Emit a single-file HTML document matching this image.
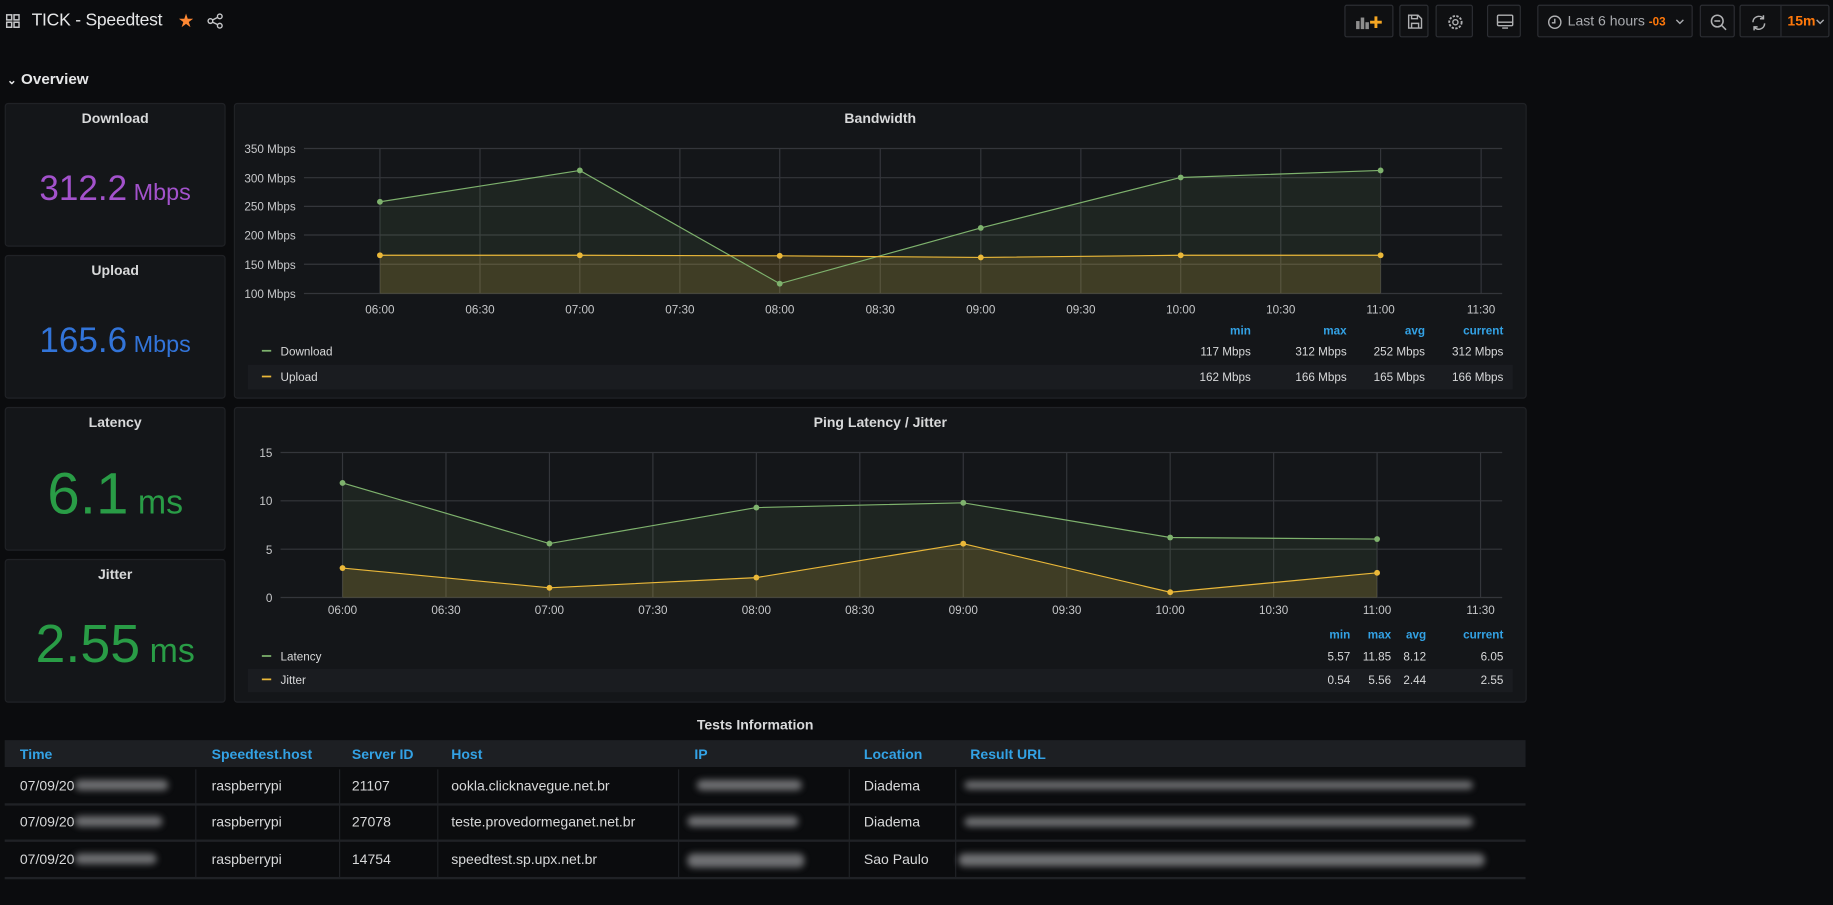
<!DOCTYPE html>
<html><head><meta charset="utf-8"><style>
html,body{margin:0;padding:0;background:#0b0c0e;overflow:hidden;width:1833px;height:905px}
#s{position:absolute;left:0;top:0;width:1568px;height:774px;transform:scale(1.16901,1.16925);transform-origin:0 0;font-family:"Liberation Sans",sans-serif;color:#d8d9da;font-size:11px}
.a{position:absolute}
.p{position:absolute;background:#141619;border:1px solid #202226;border-radius:3px;box-sizing:border-box}
.pt{position:absolute;left:0;right:0;top:5px;text-align:center;font-weight:bold;font-size:12px;color:#d8d9da}
.btn{position:absolute;top:4px;height:28px;border:1px solid #2c2e33;border-radius:2px;background:#0f1012;box-sizing:border-box}
.big{position:absolute;left:0;right:0;text-align:center;white-space:nowrap}
.th{position:absolute;top:638px;color:#33a2e5;font-weight:bold;font-size:12px}
.td{position:absolute;font-size:12px;color:#d8d9da}
.bl{position:absolute;height:9px;background:#8a8b8e;filter:blur(3px);border-radius:5px;opacity:.8}
.vs{position:absolute;width:1px;background:#202226}
.hs{position:absolute;left:4px;width:1301px;height:2px;background:#202226}
</style></head><body><div id="s">
<svg class="a" style="left:5px;top:12px" width="12" height="12"><g fill="none" stroke="#c7c8ca" stroke-width="1.3"><rect x="0.7" y="0.7" width="4.3" height="4.3"/><rect x="7" y="0.7" width="4.3" height="4.3"/><rect x="0.7" y="7" width="4.3" height="4.3"/><rect x="7" y="7" width="4.3" height="4.3"/></g></svg>
<div class="a" style="left:27px;top:9px;font-size:15px;color:#e6e7e8;letter-spacing:-0.2px">TICK - Speedtest</div>
<div class="a" style="left:152px;top:8px;font-size:16px;color:#ff8833">★</div>
<svg class="a" style="left:177px;top:11px" width="14" height="14"><g fill="none" stroke="#c7c8ca" stroke-width="1.2"><circle cx="11" cy="3" r="2"/><circle cx="3" cy="7" r="2"/><circle cx="11" cy="11" r="2"/><path d="M5 6L9 4M5 8L9 10"/></g></svg>
<div class="btn" style="left:1150px;width:42px"><svg style="position:absolute;left:9px;top:8px" width="24" height="12"><g fill="#8e8e8e"><rect x="0" y="5" width="3" height="7"/><rect x="4" y="2" width="3" height="10"/><rect x="8" y="6" width="3" height="6"/></g><path d="M17 1v10M12 6h10" stroke="#f5a623" stroke-width="2.5"/></svg></div>
<div class="btn" style="left:1197px;width:25px"><svg style="position:absolute;left:6px;top:7px" width="13" height="13"><path d="M1 1h8l3 3v8H1z M3.5 1v3h5V1 M3.5 12V8h6v4" fill="none" stroke="#b0b1b3" stroke-width="1.2"/></svg></div>
<div class="btn" style="left:1228px;width:32px"><svg style="position:absolute;left:9px;top:7px" width="14" height="14"><circle cx="7" cy="7" r="2.2" fill="none" stroke="#b0b1b3" stroke-width="1.2"/><circle cx="7" cy="7" r="5.3" fill="none" stroke="#b0b1b3" stroke-width="1.6" stroke-dasharray="2 1.2"/></svg></div>
<div class="btn" style="left:1272px;width:29px"><svg style="position:absolute;left:7px;top:7px" width="15" height="14"><rect x="1" y="1" width="13" height="9" rx="1" fill="none" stroke="#b0b1b3" stroke-width="1.2"/><path d="M1 7h13M5 12h5" stroke="#b0b1b3" stroke-width="1.2"/></svg></div>
<div class="btn" style="left:1315px;width:133px"><svg style="position:absolute;left:8px;top:8px" width="12" height="12"><circle cx="6" cy="6" r="5.2" fill="none" stroke="#b0b1b3" stroke-width="1.2"/><path d="M6 3v3.5H3.5" fill="none" stroke="#b0b1b3" stroke-width="1.2"/></svg><span style="position:absolute;left:25px;top:6px;font-size:12px;color:#a9abaf">Last 6 hours <span style="color:#ff780a;font-size:10px;font-weight:bold">-03</span></span><svg style="position:absolute;left:117px;top:11px" width="8" height="6"><path d="M1 1l3 3 3-3" fill="none" stroke="#a9abaf" stroke-width="1.2"/></svg></div>
<div class="btn" style="left:1454px;width:30px"><svg style="position:absolute;left:8px;top:7px" width="15" height="15"><circle cx="6" cy="6" r="5" fill="none" stroke="#b0b1b3" stroke-width="1.3"/><path d="M3.5 6h5M9.5 9.5l4 4" stroke="#b0b1b3" stroke-width="1.3"/></svg></div>
<div class="btn" style="left:1488px;width:77px"><svg style="position:absolute;left:8px;top:7px" width="15" height="15"><path d="M2.5 7A5 5 0 0 1 11.5 4M12.5 8A5 5 0 0 1 3.5 11" fill="none" stroke="#b0b1b3" stroke-width="1.3"/><path d="M11.5 1v3h-3M3.5 14v-3h3" fill="none" stroke="#b0b1b3" stroke-width="1.3"/></svg><div style="position:absolute;left:34px;top:0;bottom:0;width:1px;background:#2c2e33"></div><span style="position:absolute;left:40px;top:6px;font-size:12px;font-weight:bold;color:#ff780a">15m</span><svg style="position:absolute;left:64px;top:11px" width="8" height="6"><path d="M1 1l3 3 3-3" fill="none" stroke="#a9abaf" stroke-width="1.2"/></svg></div>
<div class="a" style="left:6px;top:60px;font-size:13px;font-weight:bold;color:#e6e7e8"><span style="font-size:10px">⌄</span> Overview</div>

<div class="p" style="left:4px;top:88px;width:189px;height:123px"><div class="pt">Download</div><div class="big" style="top:56px;color:#a352cc"><span style="font-size:30px">312.2</span><span style="font-size:20px"> Mbps</span></div></div>
<div class="p" style="left:4px;top:218px;width:189px;height:123px"><div class="pt">Upload</div><div class="big" style="top:56px;color:#3274d9"><span style="font-size:30px">165.6</span><span style="font-size:20px"> Mbps</span></div></div>
<div class="p" style="left:4px;top:348px;width:189px;height:123px"><div class="pt">Latency</div><div class="big" style="top:44px;color:#299c46"><span style="font-size:50px">6.1</span><span style="font-size:29px"> ms</span></div></div>
<div class="p" style="left:4px;top:478px;width:189px;height:123px"><div class="pt">Jitter</div><div class="big" style="top:44px;color:#299c46"><span style="font-size:46px">2.55</span><span style="font-size:29px"> ms</span></div></div>

<div class="p" style="left:200px;top:88px;width:1106px;height:253px"><div class="pt">Bandwidth</div></div>
<div class="p" style="left:200px;top:348px;width:1106px;height:253px"><div class="pt">Ping Latency / Jitter</div></div>

<svg class="a" style="left:0;top:0" width="1568" height="620" font-family="Liberation Sans" font-size="10" fill="#c7c8ca">
<g stroke="#34363b" stroke-width="1">
<path d="M260 127H1285M260 152H1285M260 176.5H1285M260 201H1285M260 226H1285M260 251H1285"/>
<path d="M325 127V251M410.6 127V251M496 127V251M581.6 127V251M667 127V251M753 127V251M839 127V251M924.6 127V251M1010 127V251M1095.6 127V251M1181 127V251M1267 127V251"/>
<path d="M240 387H1285M240 428.3H1285M240 469.7H1285M240 511H1285"/>
<path d="M293 387V511M381.5 387V511M470 387V511M558.5 387V511M647 387V511M735.5 387V511M824 387V511M912.5 387V511M1001 387V511M1089.5 387V511M1178 387V511M1266.5 387V511"/>
</g>
<g text-anchor="end"><text x="253" y="131">350 Mbps</text><text x="253" y="156">300 Mbps</text><text x="253" y="180">250 Mbps</text><text x="253" y="205">200 Mbps</text><text x="253" y="230">150 Mbps</text><text x="253" y="255">100 Mbps</text>
<text x="233" y="391">15</text><text x="233" y="432">10</text><text x="233" y="474">5</text><text x="233" y="515">0</text></g>
<g text-anchor="middle"><text x="325" y="268">06:00</text><text x="410.6" y="268">06:30</text><text x="496" y="268">07:00</text><text x="581.6" y="268">07:30</text><text x="667" y="268">08:00</text><text x="753" y="268">08:30</text><text x="839" y="268">09:00</text><text x="924.6" y="268">09:30</text><text x="1010" y="268">10:00</text><text x="1095.6" y="268">10:30</text><text x="1181" y="268">11:00</text><text x="1267" y="268">11:30</text>
<text x="293" y="525">06:00</text><text x="381.5" y="525">06:30</text><text x="470" y="525">07:00</text><text x="558.5" y="525">07:30</text><text x="647" y="525">08:00</text><text x="735.5" y="525">08:30</text><text x="824" y="525">09:00</text><text x="912.5" y="525">09:30</text><text x="1001" y="525">10:00</text><text x="1089.5" y="525">10:30</text><text x="1178" y="525">11:00</text><text x="1266.5" y="525">11:30</text></g>
<path d="M325 172.6L496 145.8L667 242.6L839 194.9L1010 151.8L1181 145.8V251H325Z" fill="#7eb26d" fill-opacity="0.1"/>
<path d="M325 218.3L496 218.3L667 218.8L839 220.2L1010 218.3L1181 218.3V251H325Z" fill="#eab839" fill-opacity="0.17"/>
<path d="M325 172.6L496 145.8L667 242.6L839 194.9L1010 151.8L1181 145.8" fill="none" stroke="#7eb26d"/>
<path d="M325 218.3L496 218.3L667 218.8L839 220.2L1010 218.3L1181 218.3" fill="none" stroke="#eab839"/>
<g fill="#7eb26d"><circle cx="325" cy="172.6" r="2.5"/><circle cx="496" cy="145.8" r="2.5"/><circle cx="667" cy="242.6" r="2.5"/><circle cx="839" cy="194.9" r="2.5"/><circle cx="1010" cy="151.8" r="2.5"/><circle cx="1181" cy="145.8" r="2.5"/></g>
<g fill="#eab839"><circle cx="325" cy="218.3" r="2.5"/><circle cx="496" cy="218.3" r="2.5"/><circle cx="667" cy="218.8" r="2.5"/><circle cx="839" cy="220.2" r="2.5"/><circle cx="1010" cy="218.3" r="2.5"/><circle cx="1181" cy="218.3" r="2.5"/></g>
<path d="M293 413L470 464.9L647 434.1L824 430L1001 459.7L1178 461V511H293Z" fill="#7eb26d" fill-opacity="0.1"/>
<path d="M293 485.8L470 502.7L647 494L824 465L1001 506.5L1178 489.9V511H293Z" fill="#eab839" fill-opacity="0.17"/>
<path d="M293 413L470 464.9L647 434.1L824 430L1001 459.7L1178 461" fill="none" stroke="#7eb26d"/>
<path d="M293 485.8L470 502.7L647 494L824 465L1001 506.5L1178 489.9" fill="none" stroke="#eab839"/>
<g fill="#7eb26d"><circle cx="293" cy="413" r="2.5"/><circle cx="470" cy="464.9" r="2.5"/><circle cx="647" cy="434.1" r="2.5"/><circle cx="824" cy="430" r="2.5"/><circle cx="1001" cy="459.7" r="2.5"/><circle cx="1178" cy="461" r="2.5"/></g>
<g fill="#eab839"><circle cx="293" cy="485.8" r="2.5"/><circle cx="470" cy="502.7" r="2.5"/><circle cx="647" cy="494" r="2.5"/><circle cx="824" cy="465" r="2.5"/><circle cx="1001" cy="506.5" r="2.5"/><circle cx="1178" cy="489.9" r="2.5"/></g>
<rect x="212" y="312" width="1082" height="21" fill="#1a1c20"/>
<rect x="212" y="572" width="1082" height="20" fill="#1a1c20"/>
<path d="M224 300H232" stroke="#7eb26d" stroke-width="1.5"/><path d="M224 322H232" stroke="#eab839" stroke-width="1.5"/>
<path d="M224 561H232" stroke="#7eb26d" stroke-width="1.5"/><path d="M224 581H232" stroke="#eab839" stroke-width="1.5"/>
<g fill="#d8d9da"><text x="240" y="304">Download</text><text x="240" y="326">Upload</text><text x="240" y="565">Latency</text><text x="240" y="585">Jitter</text></g>
<g text-anchor="end" fill="#33a2e5" font-weight="bold"><text x="1070" y="286">min</text><text x="1152" y="286">max</text><text x="1219" y="286">avg</text><text x="1286" y="286">current</text>
<text x="1155" y="546">min</text><text x="1190" y="546">max</text><text x="1220" y="546">avg</text><text x="1286" y="546">current</text></g>
<g text-anchor="end" fill="#d8d9da"><text x="1070" y="304">117 Mbps</text><text x="1152" y="304">312 Mbps</text><text x="1219" y="304">252 Mbps</text><text x="1286" y="304">312 Mbps</text>
<text x="1070" y="326">162 Mbps</text><text x="1152" y="326">166 Mbps</text><text x="1219" y="326">165 Mbps</text><text x="1286" y="326">166 Mbps</text>
<text x="1155" y="565">5.57</text><text x="1190" y="565">11.85</text><text x="1220" y="565">8.12</text><text x="1286" y="565">6.05</text>
<text x="1155" y="585">0.54</text><text x="1190" y="585">5.56</text><text x="1220" y="585">2.44</text><text x="1286" y="585">2.55</text></g>
</svg>

<div class="a" style="left:0;width:1292px;top:613px;text-align:center;font-weight:bold;font-size:12px">Tests Information</div>
<div class="a" style="left:4px;top:633px;width:1301px;height:23px;background:#1d1f23"></div>
<div class="th" style="left:17px">Time</div><div class="th" style="left:181px">Speedtest.host</div><div class="th" style="left:301px">Server ID</div><div class="th" style="left:386px">Host</div><div class="th" style="left:594px">IP</div><div class="th" style="left:739px">Location</div><div class="th" style="left:830px">Result URL</div>
<div class="hs" style="top:687px"></div><div class="hs" style="top:718px"></div><div class="hs" style="top:750px"></div>
<div class="vs" style="left:167px;top:658px;height:93px"></div><div class="vs" style="left:290px;top:658px;height:93px"></div><div class="vs" style="left:374px;top:658px;height:93px"></div><div class="vs" style="left:580px;top:658px;height:93px"></div><div class="vs" style="left:726px;top:658px;height:93px"></div><div class="vs" style="left:817px;top:658px;height:93px"></div>
<div class="td" style="left:17px;top:665px">07/09/20</div><div class="td" style="left:17px;top:696px">07/09/20</div><div class="td" style="left:17px;top:728px">07/09/20</div>
<div class="bl" style="left:64px;top:667px;width:80px"></div><div class="bl" style="left:64px;top:698px;width:75px"></div><div class="bl" style="left:64px;top:730px;width:70px"></div>
<div class="td" style="left:181px;top:665px">raspberrypi</div><div class="td" style="left:181px;top:696px">raspberrypi</div><div class="td" style="left:181px;top:728px">raspberrypi</div>
<div class="td" style="left:301px;top:665px">21107</div><div class="td" style="left:301px;top:696px">27078</div><div class="td" style="left:301px;top:728px">14754</div>
<div class="td" style="left:386px;top:665px">ookla.clicknavegue.net.br</div><div class="td" style="left:386px;top:696px">teste.provedormeganet.net.br</div><div class="td" style="left:386px;top:728px">speedtest.sp.upx.net.br</div>
<div class="bl" style="left:596px;top:667px;width:90px"></div><div class="bl" style="left:588px;top:698px;width:95px"></div><div class="bl" style="left:588px;top:730px;width:100px;height:12px"></div>
<div class="td" style="left:739px;top:665px">Diadema</div><div class="td" style="left:739px;top:696px">Diadema</div><div class="td" style="left:739px;top:728px">Sao Paulo</div>
<div class="bl" style="left:825px;top:668px;width:435px;height:7px"></div><div class="bl" style="left:825px;top:699px;width:435px;height:8px"></div><div class="bl" style="left:820px;top:730px;width:450px;height:11px"></div>
</div></body></html>
